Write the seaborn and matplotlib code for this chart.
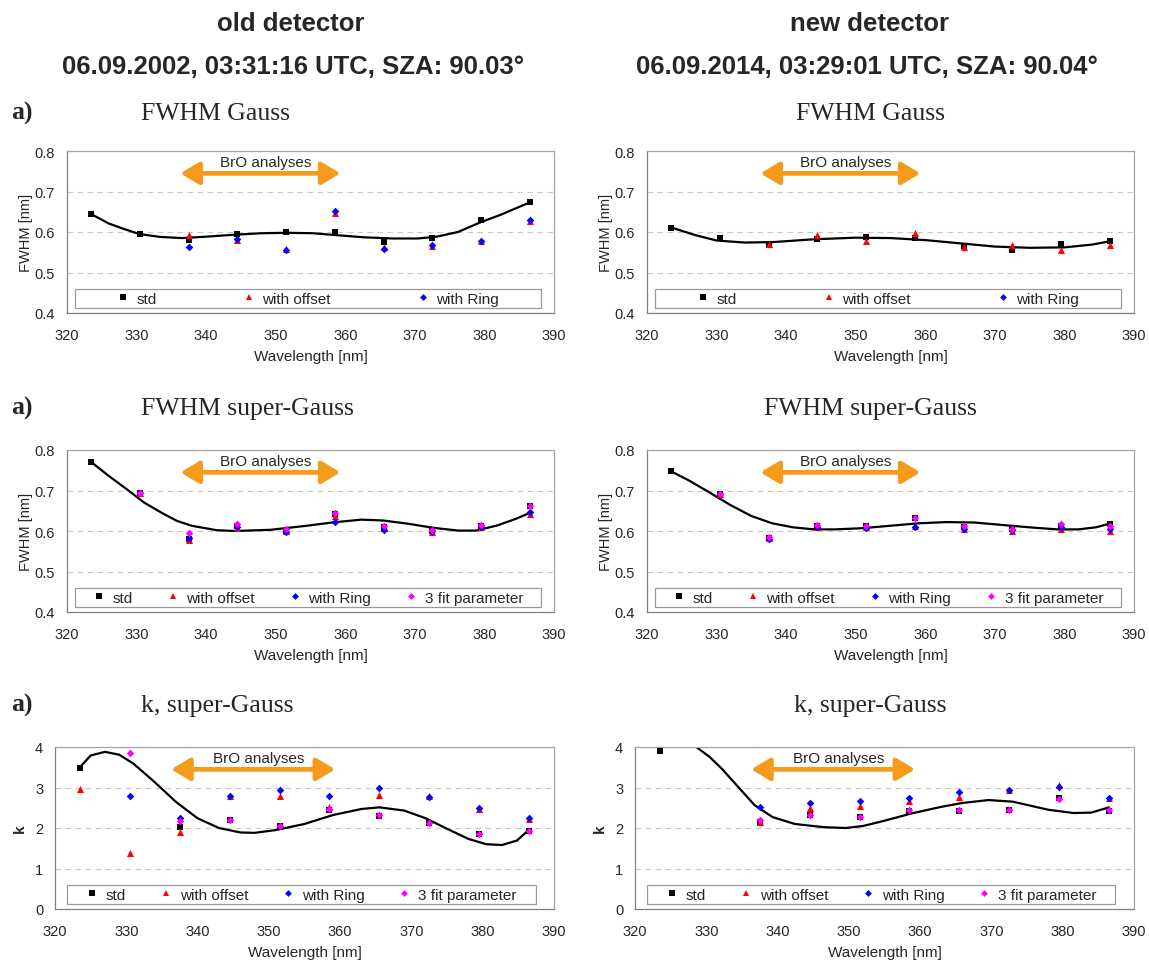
import numpy as np
import matplotlib
matplotlib.use("Agg")
import matplotlib.pyplot as plt
import seaborn as sns
from matplotlib.lines import Line2D
from matplotlib.patches import Rectangle

sns.set_style("white")
plt.rcParams["font.family"] = ["Liberation Sans", "DejaVu Sans"]

nan = np.nan

# --- Wellenlaengen der Fitfenster ---
wl = [323.5, 330.5, 337.5, 344.5, 351.5, 358.5, 365.5, 372.5, 379.5, 386.5]

# --- FWHM Gauss, alter Detektor ---
g_old_std = [0.644, 0.596, 0.580, 0.596, 0.600, 0.599, 0.576, 0.586, 0.630, 0.673]
g_old_off = [nan, nan, 0.592, 0.581, 0.559, 0.648, 0.562, 0.565, 0.577, 0.626]
g_old_ring = [nan, nan, 0.564, 0.583, 0.556, 0.653, 0.559, 0.569, 0.579, 0.629]
g_old_trend_x = [323.5, 326.0, 328.1, 330.4, 333.3, 336.5, 339.6, 343.8, 348.0, 351.6,
                 355.3, 358.9, 362.6, 366.8, 370.4, 373.0, 376.2, 379.3, 382.4, 386.5]
g_old_trend_y = [0.644, 0.621, 0.608, 0.595, 0.588, 0.585, 0.588, 0.593, 0.597, 0.598,
                 0.597, 0.592, 0.587, 0.584, 0.584, 0.588, 0.600, 0.623, 0.643, 0.673]

# --- FWHM Gauss, neuer Detektor ---
g_new_std = [0.611, 0.584, 0.568, 0.582, 0.588, 0.586, 0.565, 0.555, 0.570, 0.578]
g_new_off = [nan, nan, 0.570, 0.592, 0.577, 0.598, 0.564, 0.569, 0.556, 0.568]
g_new_ring = [nan] * 10
g_new_trend_x = [323.5, 327.0, 330.0, 334.0, 338.0, 344.0, 350.0, 355.0, 360.0, 365.0,
                 370.0, 375.0, 380.0, 384.0, 386.5]
g_new_trend_y = [0.611, 0.592, 0.579, 0.574, 0.575, 0.582, 0.586, 0.585, 0.580, 0.572,
                 0.564, 0.561, 0.562, 0.569, 0.577]

# --- FWHM super-Gauss, alter Detektor ---
sg_old_std = [0.770, 0.693, 0.580, 0.613, 0.600, 0.642, 0.611, 0.600, 0.613, 0.661]
sg_old_off = [nan, 0.693, 0.578, 0.607, 0.600, 0.638, 0.607, 0.598, 0.611, 0.643]
sg_old_ring = [nan, 0.693, 0.582, 0.611, 0.597, 0.623, 0.603, 0.600, 0.611, 0.647]
sg_old_3fp = [nan, 0.693, 0.594, 0.617, 0.604, 0.645, 0.612, 0.603, 0.615, 0.661]
sg_old_trend_x = [323.5, 326.0, 328.6, 331.1, 333.7, 335.8, 337.9, 341.5, 344.1, 349.3,
                  354.5, 358.1, 362.3, 365.4, 369.0, 372.6, 376.2, 378.8, 381.9, 384.5, 386.3]
sg_old_trend_y = [0.770, 0.736, 0.703, 0.670, 0.644, 0.625, 0.613, 0.602, 0.600, 0.603,
                  0.613, 0.621, 0.628, 0.626, 0.618, 0.608, 0.601, 0.601, 0.614, 0.630, 0.643]

# --- FWHM super-Gauss, neuer Detektor ---
sg_new_std = [0.747, 0.692, 0.582, 0.613, 0.613, 0.632, 0.610, 0.604, 0.613, 0.617]
sg_new_off = [nan, 0.692, 0.583, 0.611, 0.609, 0.613, 0.606, 0.601, 0.605, 0.601]
sg_new_ring = [nan, 0.692, 0.580, 0.609, 0.607, 0.609, 0.605, 0.603, 0.609, 0.605]
sg_new_3fp = [nan, 0.692, 0.586, 0.615, 0.612, 0.633, 0.612, 0.604, 0.618, 0.613]
sg_new_trend_x = [323.5, 326.0, 329.0, 332.0, 335.0, 338.0, 341.0, 344.0, 347.0, 351.0,
                  355.0, 359.0, 363.0, 367.0, 371.0, 375.0, 379.0, 382.0, 384.5, 386.5]
sg_new_trend_y = [0.747, 0.725, 0.695, 0.664, 0.637, 0.619, 0.609, 0.604, 0.604, 0.607,
                  0.613, 0.619, 0.622, 0.621, 0.615, 0.609, 0.604, 0.604, 0.609, 0.618]

# --- k super-Gauss, alter Detektor ---
k_old_std = [3.47, nan, 2.02, 2.19, 2.04, 2.44, 2.30, 2.12, 1.85, 1.93]
k_old_off = [2.97, 1.38, 1.89, 2.79, 2.78, 2.52, 2.81, 2.80, 2.48, 2.21]
k_old_ring = [nan, 2.79, 2.24, 2.80, 2.93, 2.78, 3.00, 2.76, 2.50, 2.24]
k_old_3fp = [nan, 3.86, 2.17, 2.20, 2.05, 2.47, 2.31, 2.12, 1.85, 1.93]
k_old_trend_x = [323.5, 325.0, 327.0, 329.0, 331.0, 334.0, 337.0, 340.0, 343.0, 346.0,
                 348.0, 351.0, 355.0, 359.0, 363.0, 365.5, 369.0, 372.0, 375.0, 378.0,
                 380.5, 382.7, 384.8, 386.5]
k_old_trend_y = [3.50, 3.79, 3.88, 3.81, 3.59, 3.13, 2.64, 2.24, 2.00, 1.89,
                 1.88, 1.95, 2.10, 2.32, 2.47, 2.51, 2.43, 2.24, 1.98, 1.73,
                 1.60, 1.58, 1.69, 1.96]

# --- k super-Gauss, neuer Detektor ---
k_new_std = [3.89, nan, 2.14, 2.31, 2.27, 2.43, 2.41, 2.45, 2.75, 2.43]
k_new_off = [nan, nan, 2.16, 2.50, 2.54, 2.67, 2.77, 2.94, 3.05, 2.73]
k_new_ring = [nan, nan, 2.51, 2.61, 2.66, 2.73, 2.90, 2.93, 3.02, 2.75]
k_new_3fp = [nan, nan, 2.19, 2.32, 2.28, 2.44, 2.44, 2.45, 2.71, 2.45]
k_new_trend_x = [326.5, 328.6, 330.5, 332.2, 334.7, 336.8, 339.3, 342.4, 346.5, 349.6,
                 352.0, 355.0, 358.8, 362.9, 366.0, 369.6, 373.0, 378.0, 381.5, 384.0, 386.5]
k_new_trend_y = [4.40, 4.00, 3.75, 3.46, 2.97, 2.56, 2.27, 2.10, 2.02, 2.00,
                 2.05, 2.18, 2.36, 2.52, 2.62, 2.69, 2.65, 2.45, 2.37, 2.38, 2.51]

serien = ["std", "with offset", "with Ring", "3 fit parameter"]
marker = ["s", "^", "D", "D"]
farben = ["#000000", "#ff0000", "#0000ff", "#ff00ff"]
groesse = [22, 26, 15, 15]
ORANGE = "#f59a1b"

W, H = 1149, 962
fig = plt.figure(figsize=(W / 100, H / 100), dpi=100)


def rect(l, t, r, b):
    return [l / W, 1 - b / H, (r - l) / W, (b - t) / H]


panels = [
    dict(pos=rect(67, 152, 554, 314), daten=[g_old_std, g_old_off, g_old_ring],
         trend=(g_old_trend_x, g_old_trend_y), k=False, box=(0.016, 0.974)),
    dict(pos=rect(647, 152, 1134, 314), daten=[g_new_std, g_new_off, g_new_ring],
         trend=(g_new_trend_x, g_new_trend_y), k=False, box=(0.016, 0.974)),
    dict(pos=rect(67, 451, 554, 613), daten=[sg_old_std, sg_old_off, sg_old_ring, sg_old_3fp],
         trend=(sg_old_trend_x, sg_old_trend_y), k=False, box=(0.016, 0.974)),
    dict(pos=rect(647, 451, 1134, 613), daten=[sg_new_std, sg_new_off, sg_new_ring, sg_new_3fp],
         trend=(sg_new_trend_x, sg_new_trend_y), k=False, box=(0.016, 0.974)),
    dict(pos=rect(55, 748, 554, 910), daten=[k_old_std, k_old_off, k_old_ring, k_old_3fp],
         trend=(k_old_trend_x, k_old_trend_y), k=True, box=(0.024, 0.963)),
    dict(pos=rect(635, 748, 1134, 910), daten=[k_new_std, k_new_off, k_new_ring, k_new_3fp],
         trend=(k_new_trend_x, k_new_trend_y), k=True, box=(0.025, 0.962)),
]

for p in panels:
    ax = fig.add_axes(p["pos"])
    n = len(p["daten"])
    for i, werte in enumerate(p["daten"]):
        if np.all(np.isnan(werte)):
            continue
        sns.scatterplot(x=wl, y=werte, marker=marker[i], color=farben[i], s=groesse[i],
                        linewidth=0, ax=ax, zorder=3 + i, legend=False)
    sns.lineplot(x=p["trend"][0], y=p["trend"][1], color="black", linewidth=1.6,
                 sort=False, estimator=None, ax=ax, zorder=2)

    ax.set_xlim(320, 390)
    ax.set_xticks(range(320, 391, 10))
    if p["k"]:
        ax.set_ylim(0, 4)
        ax.set_yticks([0, 1, 2, 3, 4])
        ax.set_ylabel("k", fontsize=11, fontweight="bold", labelpad=6)
    else:
        ax.set_ylim(0.4, 0.8)
        ax.set_yticks([0.4, 0.5, 0.6, 0.7, 0.8])
        ax.yaxis.set_major_formatter(plt.FormatStrFormatter("%.1f"))
        ax.set_ylabel("FWHM [nm]", fontsize=10.5, labelpad=1.5)
    ax.set_xlabel("Wavelength [nm]", fontsize=11, labelpad=5)
    ax.tick_params(axis="both", labelsize=10.5, direction="out", length=3.5, width=0.8,
                   color="#808080", pad=5)
    ax.tick_params(axis="x", pad=7)
    ax.yaxis.grid(True, linestyle=(0, (5, 4)), color="#c8c8c8", linewidth=0.8)
    ax.set_axisbelow(True)
    for s in ax.spines.values():
        s.set_color("#a6a6a6")
        s.set_linewidth(0.9)
    ax.spines["left"].set_color("#808080")
    ax.spines["bottom"].set_color("#808080")

    # BrO-Bereich
    ax.annotate("", xy=(359.3, 0.862), xycoords=("data", "axes fraction"),
                xytext=(336.3, 0.862), textcoords=("data", "axes fraction"),
                arrowprops=dict(arrowstyle="<|-|>,head_length=0.75,head_width=0.45",
                                color=ORANGE, lw=3.4, shrinkA=0, shrinkB=0,
                                mutation_scale=15), zorder=6)
    ax.text(348.6, 0.93, "BrO analyses", transform=ax.get_xaxis_transform(),
            ha="center", va="center", fontsize=11, zorder=6)

    # Legende mit eigenem Rahmen
    x0, x1 = p["box"]
    ax.add_patch(Rectangle((x0, 0.03), x1 - x0, 0.117, transform=ax.transAxes,
                           facecolor="white", edgecolor="#9a9a9a", linewidth=0.9, zorder=7))
    handles = [Line2D([], [], linestyle="", marker=marker[i], color=farben[i],
                      markersize=np.sqrt(groesse[i]) * 0.9, markeredgewidth=0)
               for i in range(n)]
    leg = ax.legend(handles, serien[:n], loc="center", bbox_to_anchor=((x0 + x1) / 2, 0.088),
                    ncol=n, frameon=False, fontsize=11, handlelength=0.8, handletextpad=0.5,
                    columnspacing=5.6 if n == 3 else 2.2, borderaxespad=0, borderpad=0)
    leg.set_zorder(8)

# --- Ueberschriften ---
kopf = dict(fontsize=18.5, fontweight="bold", ha="center", va="baseline")
fig.text(291 / W, 1 - 31 / H, "old detector", **kopf)
fig.text(293 / W, 1 - 74 / H, "06.09.2002, 03:31:16 UTC, SZA: 90.03°", **kopf)
fig.text(870 / W, 1 - 31 / H, "new detector", **kopf)
fig.text(867 / W, 1 - 74 / H, "06.09.2014, 03:29:01 UTC, SZA: 90.04°", **kopf)

serif = ["Liberation Serif", "DejaVu Serif"]
titel = ["FWHM Gauss", "FWHM super-Gauss", "k, super-Gauss"]
zeilen = [120, 415, 712]
for t, y in zip(titel, zeilen):
    fig.text(11 / W, 1 - y / H, "a)", family=serif, fontsize=18.5, fontweight="bold", va="baseline")
    fig.text(141 / W, 1 - y / H, t, family=serif, fontsize=18.5, va="baseline")
    fig.text(870 / W, 1 - y / H, t, family=serif, fontsize=18.5, va="baseline", ha="center")

fig.savefig("out.png", dpi=100)
